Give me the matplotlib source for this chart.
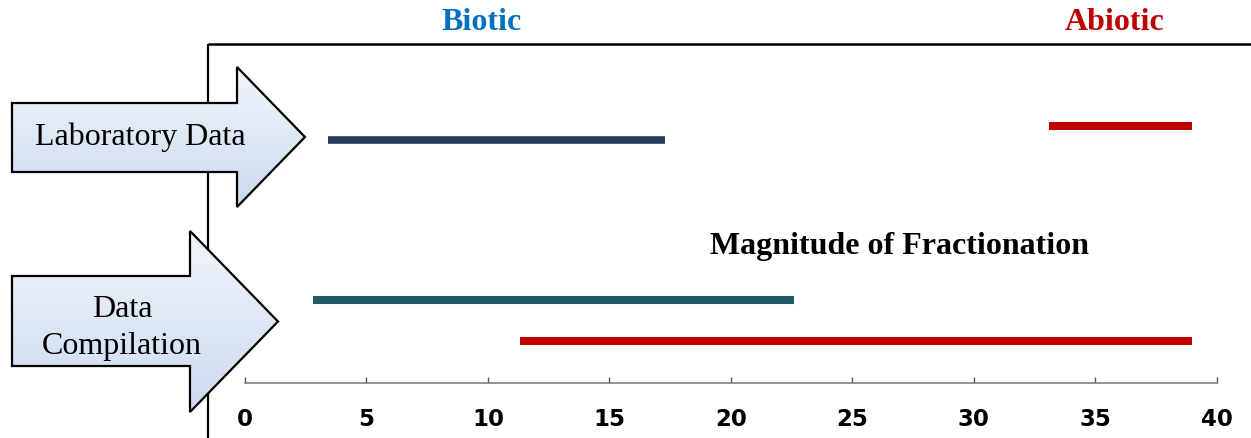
import matplotlib
matplotlib.use("Agg")
import matplotlib.pyplot as plt
import numpy as np
from matplotlib.patches import Polygon
from matplotlib.colors import LinearSegmentedColormap

# data: fractionation ranges (start, end)
lab_biotic = [3.4, 17.3]
lab_abiotic = [33.1, 39.0]
comp_biotic = [2.8, 22.6]
comp_abiotic = [11.3, 39.0]
xticks = [0, 5, 10, 15, 20, 25, 30, 35, 40]

W, H = 1251, 439
fig = plt.figure(figsize=(W/100, H/100), dpi=100)

# overlay in pixel coordinates for frame + arrows
ov = fig.add_axes([0, 0, 1, 1])
ov.set_axis_off()

cmap = LinearSegmentedColormap.from_list("arr", ["#F2F5FB", "#CBDAEE"])
grad = np.linspace(0, 1, 256).reshape(-1, 1)

def block_arrow(x0, x_neck, x_tip, y_top, y_bot, h_top, h_bot):
    yc = (h_top + h_bot) / 2
    pts = [(x0, y_top), (x_neck, y_top), (x_neck, h_top), (x_tip, yc),
           (x_neck, h_bot), (x_neck, y_bot), (x0, y_bot)]
    poly = Polygon(pts, closed=True, facecolor="none", edgecolor="black",
                   lw=1.6, zorder=4, joinstyle="miter")
    ov.add_patch(poly)
    im = ov.imshow(grad, extent=(x0, x_tip, h_bot, h_top), cmap=cmap,
                   aspect="auto", zorder=3, interpolation="bilinear")
    im.set_clip_path(poly)

# frame lines
ov.plot([208, W], [45, 45], color="black", lw=1.8, zorder=2, solid_capstyle="butt")
ov.plot([208, 208], [45, H], color="black", lw=1.6, zorder=2, solid_capstyle="butt")

block_arrow(12, 237, 305, 104, 173, 68, 208)
block_arrow(12, 190, 278, 277, 367, 232, 413)

serif = "Liberation Serif"
ov.text(140, 137, "Laboratory Data", family=serif, fontsize=23,
        ha="center", va="center", zorder=5)
ov.text(122, 310, "Data", family=serif, fontsize=23,
        ha="center", va="center", zorder=5)
ov.text(122, 347, "Compilation", family=serif, fontsize=23,
        ha="center", va="center", zorder=5)

ov.text(482, 23, "Biotic", family=serif, fontweight="bold",
        fontsize=23, color="#0070C0", ha="center", va="center")
ov.text(1115, 23, "Abiotic", family=serif, fontweight="bold",
        fontsize=23, color="#C00000", ha="center", va="center")
ov.text(900, 247, "Magnitude of Fractionation", family=serif,
        fontweight="bold", fontsize=23, color="black", ha="center", va="center")

ov.set_xlim(0, W)
ov.set_ylim(H, 0)

# main axes: x in data units, y in pixel rows
x_left, x_right = 245, 1216.7
y_axis, y_top = 384, 45
ax = fig.add_axes([x_left/W, (H - y_axis)/H, (x_right - x_left)/W, (y_axis - y_top)/H])
ax.patch.set_alpha(0)
ax.set_xlim(0, 40)
ax.set_ylim(y_axis, y_top)

row_lab_bio, row_lab_abio, row_comp_bio, row_comp_abio = 141, 127, 301, 342
ax.hlines(row_lab_bio, *lab_biotic, color="#243F60", lw=5.5)
ax.hlines(row_lab_abio, *lab_abiotic, color="#C00000", lw=5.8)
ax.hlines(row_comp_bio, *comp_biotic, color="#215967", lw=5.8)
ax.hlines(row_comp_abio, *comp_abiotic, color="#C00000", lw=5.8)

for s in ["top", "left", "right"]:
    ax.spines[s].set_visible(False)
ax.spines["bottom"].set_color("#7F7F7F")
ax.spines["bottom"].set_linewidth(1.2)
ax.set_xticks(xticks)
ax.set_xticklabels([str(t) for t in xticks])
ax.set_yticks([])
ax.tick_params(axis="x", direction="in", length=4.5, width=1.0, color="#555555",
               pad=17, labelsize=16.5)
for lab in ax.get_xticklabels():
    lab.set_fontweight("bold")
    lab.set_family("DejaVu Sans")

fig.savefig("out.png", dpi=100)
